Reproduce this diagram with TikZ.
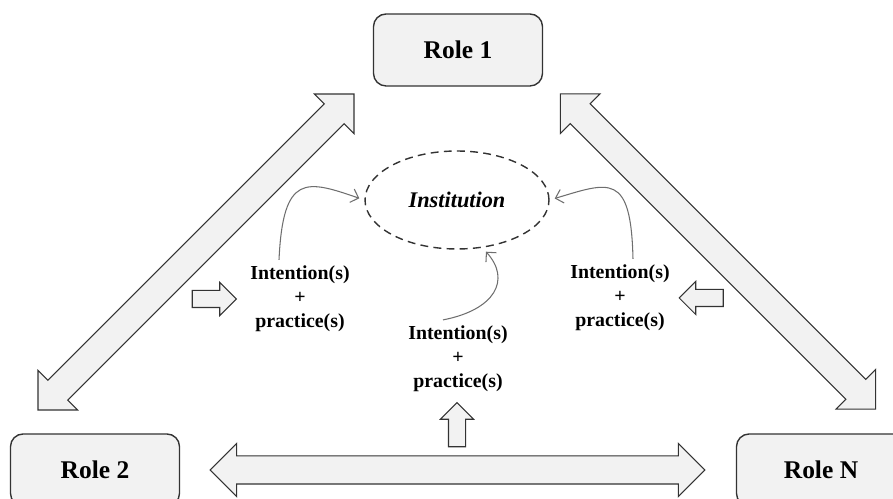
\documentclass[tikz,border=0pt]{standalone}
\usepackage{fontspec}
\setmainfont{Liberation Serif}
\usetikzlibrary{arrows.meta,shapes.geometric,shapes.arrows,calc}
\definecolor{boxfill}{HTML}{F2F2F2}
\definecolor{edgegray}{HTML}{333333}
\definecolor{curvegray}{HTML}{6E6E6E}

\begin{document}
\begin{tikzpicture}[x=0.02cm,y=-0.02cm,
			role/.style={draw=edgegray,thick,fill=boxfill,rounded corners=0.25cm,minimum width=3.38cm,minimum height=1.44cm,font=\fontsize{14.5}{17}\selectfont\bfseries},
			inst/.style={ellipse,draw=edgegray,thick,dash pattern=on 4.5pt off 3pt,minimum width=3.68cm,minimum height=1.96cm,font=\fontsize{12.7}{15}\selectfont\bfseries\itshape},
			intent/.style={align=center,font=\fontsize{11.3}{13.6}\selectfont\bfseries},
			bigdbl/.style={double arrow,draw=edgegray,fill=boxfill,semithick,inner sep=0.27cm,double arrow head extend=0.28cm,minimum width=1.1cm},
			smallar/.style={single arrow,draw=edgegray,fill=boxfill,semithick,inner sep=0.16cm,single arrow head extend=0.16cm,minimum width=0.64cm,minimum height=0.88cm},
			curv/.style={curvegray,semithick,-{Straight Barb[length=4pt,width=8pt]},shorten >=3pt}
			]
			\useasboundingbox (0,0) rectangle (893,499);
			% roles
			\node[role] (r1) at (458,50) {Role 1};
			\node[role] (r2) at (95,470) {Role 2};
			\node[role] (rn) at (821,470) {Role N};
			\node[inst] (inst) at (457,200) {Institution};
			% intentions
			\node[intent] (lt) at (300,299) {Intention(s)\\+\\practice(s)};
			\node[intent] (rt) at (620,298) {Intention(s)\\+\\practice(s)};
			\node[intent] (bt) at (458,359) {Intention(s)\\+\\practice(s)};
			% tips of the big arrows
			\coordinate (a2) at (38,410); \coordinate (a1) at (354,94);
			\coordinate (b1) at (560,94); \coordinate (bn) at (876,409);
			\coordinate (c2) at (210,470); \coordinate (cn) at (705,470);
			\node[bigdbl,rotate=45,minimum height=8.94cm] (d12) at ($(a2)!.5!(a1)$) {};
			\node[bigdbl,rotate=-45,minimum height=8.92cm] (d1n) at ($(b1)!.5!(bn)$) {};
			\node[bigdbl,double arrow head extend=0.25cm,minimum width=1.04cm,minimum height=9.9cm] (d2n) at ($(c2)!.5!(cn)$) {};
			% small arrows
			\node[smallar] (sl) at (210,299) {};
			\node[smallar,rotate=180] (sr) at (705.5,298) {};
			\node[smallar,rotate=90] (sb) at (457,429) {};
			% curves
			\draw[curv] ([xshift=-0.42cm]lt.north) .. controls +(4,-87) and +(-58,-20) .. (inst.west);
			\draw[curv] ([xshift=0.26cm]rt.north) .. controls +(-2,-87) and +(60,-18) .. (inst.east);
			\draw[curv] ([xshift=-0.3cm]bt.north) .. controls +(52,-10) and +(29,32) .. (inst.-62);
		\end{tikzpicture}
\end{document}
